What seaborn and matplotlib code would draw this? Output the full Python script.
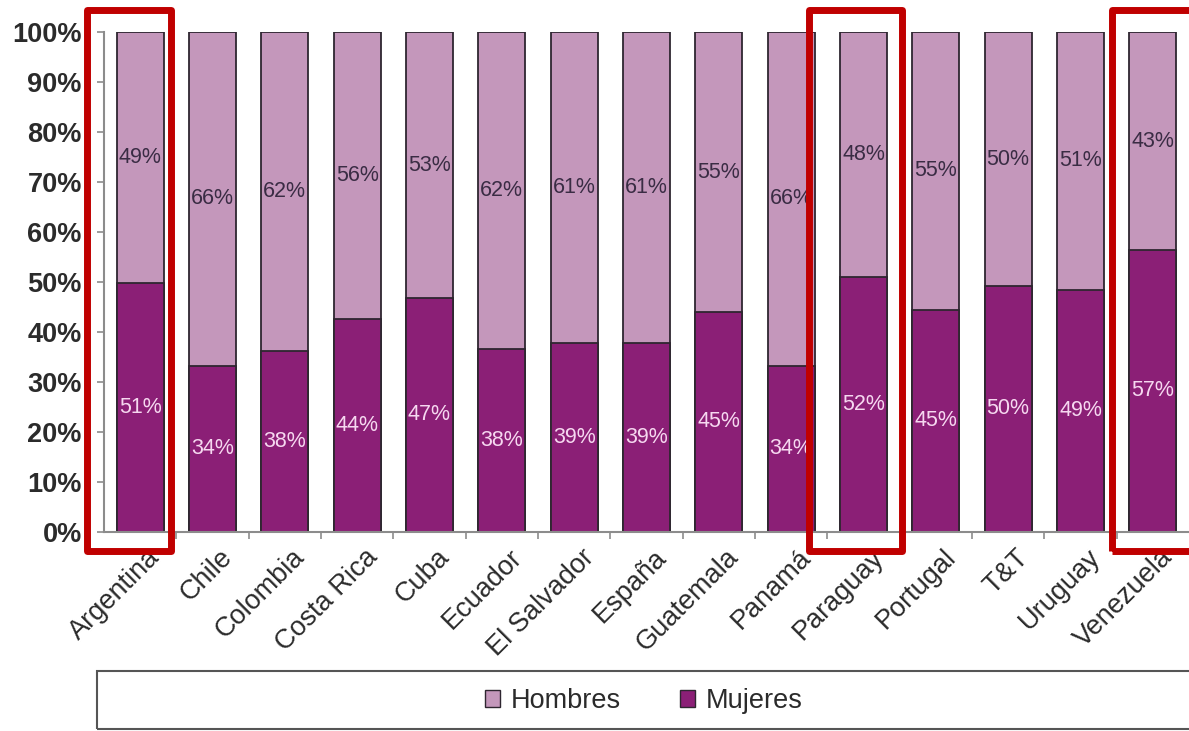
import matplotlib
matplotlib.use("Agg")
from matplotlib import pyplot as plt
from matplotlib.patches import Rectangle
from matplotlib.ticker import MultipleLocator, FixedLocator, PercentFormatter
import matplotlib.transforms as mtransforms
import numpy as np
import pandas as pd
import seaborn as sns

# Countries (x axis)
paises = ['Argentina', 'Chile', 'Colombia', 'Costa Rica', 'Cuba', 'Ecuador',
          'El Salvador', 'España', 'Guatemala', 'Panamá', 'Paraguay',
          'Portugal', 'T&T', 'Uruguay', 'Venezuela']
# Share of women as drawn by the bars (%)
mujeres = [49.7, 33.2, 36.2, 42.5, 46.7, 36.6, 37.7, 37.7, 43.9, 33.2,
           50.9, 44.4, 49.1, 48.4, 56.3]
# Labels printed on the bars
mujeres_lbl = [51, 34, 38, 44, 47, 38, 39, 39, 45, 34, 52, 45, 50, 49, 57]
hombres_lbl = [49, 66, 62, 56, 53, 62, 61, 61, 55, 66, 48, 55, 50, 51, 43]
# Countries highlighted with a red box
resaltados = ['Argentina', 'Paraguay', 'Venezuela']

COL_H = '#c497bb'
COL_M = '#8b1f76'
EDGE = '#2e2630'

sns.set_style('white')
plt.rcParams['font.family'] = ['Liberation Sans', 'DejaVu Sans']

df = pd.DataFrame({'pais': paises, 'mujeres': mujeres, 'total': 100.0})

fig = plt.figure(figsize=(11.89, 7.31), dpi=100)
ax = fig.add_axes([104 / 1189, 1 - 531.5 / 731, 1 - 104 / 1189, 499.5 / 731])

# Full bar (men on top) then women from the bottom
sns.barplot(data=df, x='pais', y='total', color=COL_H, saturation=1,
            width=0.65, edgecolor=EDGE, linewidth=1.3, ax=ax)
sns.barplot(data=df, x='pais', y='mujeres', color=COL_M, saturation=1,
            width=0.65, edgecolor=EDGE, linewidth=1.3, ax=ax)

for i, (m, lm, lh) in enumerate(zip(mujeres, mujeres_lbl, hombres_lbl)):
    ax.text(i, m / 2, f'{lm}%', ha='center', va='center', fontsize=15.5,
            color='#f6d8f0')
    ax.text(i, (m + 100) / 2, f'{lh}%', ha='center', va='center',
            fontsize=15.5, color='#3a2c44')

ax.set_xlim(-0.5, len(paises) - 0.5)
ax.set_ylim(0, 100)
ax.yaxis.set_major_locator(MultipleLocator(10))
ax.yaxis.set_major_formatter(PercentFormatter(100, decimals=0))
ax.set_xlabel('')
ax.set_ylabel('')

for s in ['top', 'right']:
    ax.spines[s].set_visible(False)
for s in ['left', 'bottom']:
    ax.spines[s].set_color('#8c8c8c')
    ax.spines[s].set_linewidth(1.5)

ax.tick_params(axis='y', left=True, length=5, width=1.2, color='#8c8c8c',
               labelsize=19.5, labelcolor='#2b2b2b', pad=11)
for t in ax.get_yticklabels():
    t.set_fontweight('bold')
ax.tick_params(axis='x', which='major', length=0, labelsize=19.5,
               labelcolor='#2b2b2b', pad=4)
ax.xaxis.set_minor_locator(FixedLocator(np.arange(0.5, len(paises) - 0.5, 1)))
ax.tick_params(axis='x', which='minor', bottom=True, length=5, width=1.2,
               color='#8c8c8c')
offset = mtransforms.ScaledTranslation(0.07, -0.07, fig.dpi_scale_trans)
for t in ax.get_xticklabels():
    t.set_rotation(45)
    t.set_ha('right')
    t.set_rotation_mode('anchor')
    t.set_transform(t.get_transform() + offset)

# Red highlight boxes (left/right extent around each bar)
box_ext = {'Argentina': (-0.73, 0.43), 'Paraguay': (-0.75, 0.53),
           'Venezuela': (-0.56, 0.70)}
for p in resaltados:
    i = paises.index(p)
    lo, hi = box_ext[p]
    ax.add_patch(Rectangle((i + lo, -4.0), hi - lo, 108.5, fill=False,
                           edgecolor='#c00000', linewidth=5, clip_on=False,
                           joinstyle='round', zorder=5))

# Legend box along the bottom
fig.patches.append(Rectangle((97 / 1189, 0.003), 1.0, (731 - 673) / 731,
                             transform=fig.transFigure, fill=False,
                             edgecolor='#555555', linewidth=1.5))
handles = [Rectangle((0, 0), 1, 1, facecolor=COL_H, edgecolor=EDGE, lw=1),
           Rectangle((0, 0), 1, 1, facecolor=COL_M, edgecolor=EDGE, lw=1)]
fig.legend(handles, ['Hombres', 'Mujeres'], loc='center',
           bbox_to_anchor=(644 / 1189, 1 - 701 / 731), ncol=2, frameon=False,
           fontsize=19.5, handlelength=0.55, handleheight=0.55,
           handletextpad=0.4, columnspacing=2.2, labelcolor='#2b2b2b')

fig.savefig('out.png', dpi=100)
